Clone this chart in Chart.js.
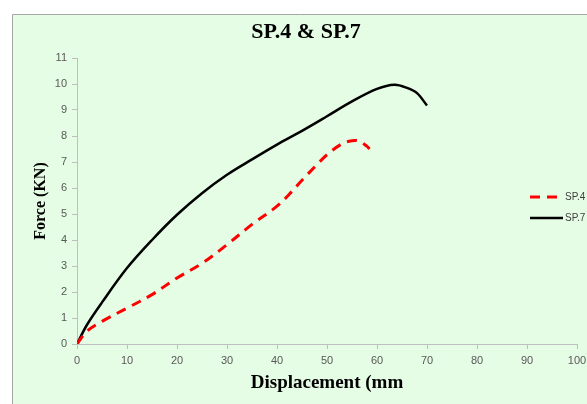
<!DOCTYPE html>
<html>
<head>
<meta charset="utf-8">
<script src="https://cdn.jsdelivr.net/npm/chart.js@4"></script>
<style>
    html, body { margin: 0; padding: 0; background: #ffffff; }
    #wrap { position: relative; width: 587px; height: 404px; }
</style>
</head>
<body>
<div id="wrap"><canvas id="myChart" width="587" height="404"></canvas></div>
<script>
// valori (spostamento mm -> forza KN)
const sp4Displacement = [0, 2, 5, 10, 15, 20, 25, 30, 35, 40, 43, 45, 48, 50, 53, 55, 56.5, 58, 58.5];
const sp4Force = [0, 0.49, 0.87, 1.38, 1.9, 2.54, 3.1, 3.82, 4.6, 5.3, 5.87, 6.3, 6.9, 7.28, 7.7, 7.82, 7.8, 7.6, 7.5];

const sp7Displacement = [0, 2, 5, 10, 15, 20, 25, 30, 35, 40, 45, 50, 55, 60, 63.5, 66, 68, 70];
const sp7Force = [0, 0.74, 1.6, 2.92, 4.0, 4.97, 5.8, 6.51, 7.1, 7.67, 8.2, 8.76, 9.33, 9.81, 9.97, 9.85, 9.65, 9.17];

const seriesLabels = ['SP.4', 'SP.7'];
const chartTitle = 'SP.4 & SP.7';
const xTitle = 'Displacement (mm';
const yTitle = 'Force (KN)';

function toPoints(xs, ys) {
    return xs.map((x, i) => ({ x: x, y: ys[i] }));
}

// sfondo verde e bordo del riquadro
const backgroundBox = {
    id: 'backgroundBox',
    beforeDraw(chart) {
        const ctx = chart.ctx;
        ctx.save();
        ctx.fillStyle = '#e5fce5';
        ctx.fillRect(12, 14, chart.width - 12, chart.height - 14);
        ctx.strokeStyle = '#a6a6a6';
        ctx.lineWidth = 1;
        ctx.beginPath();
        ctx.moveTo(12.5, chart.height);
        ctx.lineTo(12.5, 14.5);
        ctx.lineTo(chart.width, 14.5);
        ctx.stroke();
        ctx.restore();
    }
};

// titolo e legenda disegnati a mano per metterli dove sono nell'originale
const titleAndLegend = {
    id: 'titleAndLegend',
    afterDraw(chart) {
        const ctx = chart.ctx;
        ctx.save();
        ctx.fillStyle = '#000000';
        ctx.font = 'bold 22px "Liberation Serif"';
        ctx.textAlign = 'center';
        ctx.textBaseline = 'alphabetic';
        ctx.fillText(chartTitle, 306, 38);

        const rows = [197, 218];
        ctx.textBaseline = 'middle';
        chart.data.datasets.forEach((ds, i) => {
            const y = rows[i];
            ctx.strokeStyle = ds.borderColor;
            ctx.lineWidth = ds.borderWidth;
            ctx.setLineDash(ds.borderDash || []);
            ctx.beginPath();
            ctx.moveTo(530, y);
            ctx.lineTo(563, y);
            ctx.stroke();
            ctx.setLineDash([]);
            ctx.fillStyle = '#404040';
            ctx.font = '10px "Liberation Sans"';
            ctx.textAlign = 'left';
            ctx.fillText(ds.label, 565, y);
        });
        ctx.restore();
    }
};

const ctx = document.getElementById('myChart').getContext('2d');
const myChart = new Chart(ctx, {
    type: 'scatter',
    data: {
        datasets: [
            {
                label: seriesLabels[0],
                data: toPoints(sp4Displacement, sp4Force),
                showLine: true,
                borderColor: '#ff0000',
                borderWidth: 3,
                borderDash: [10, 7],
                pointRadius: 0,
                tension: 0.35,
            },
            {
                label: seriesLabels[1],
                data: toPoints(sp7Displacement, sp7Force),
                showLine: true,
                borderColor: '#000000',
                borderWidth: 2.5,
                pointRadius: 0,
                tension: 0.35,
            }
        ]
    },
    options: {
        responsive: false,
        animation: false,
        layout: {
            padding: { left: 11, top: 58, right: 10, bottom: 0 }
        },
        scales: {
            x: {
                type: 'linear',
                min: 0,
                max: 100,
                // niente spazio extra per l'etichetta "100"
                afterFit(scale) {
                    scale.height = 60;
                    scale.paddingLeft = 0;
                    scale.paddingRight = 0;
                },
                ticks: {
                    stepSize: 10,
                    color: '#595959',
                    padding: 5,
                    maxRotation: 0,
                    font: { family: 'Liberation Sans', size: 11 }
                },
                grid: { drawOnChartArea: false, drawTicks: true, tickLength: 5, color: '#bfbfbf' },
                border: { color: '#bfbfbf' },
                title: {
                    display: true,
                    text: xTitle,
                    color: '#000000',
                    padding: { top: 0, bottom: 10 },
                    font: { family: 'Liberation Serif', size: 19, weight: 'bold' }
                }
            },
            y: {
                type: 'linear',
                min: 0,
                max: 11,
                afterFit(scale) { scale.width = 66; },
                ticks: {
                    stepSize: 1,
                    color: '#595959',
                    padding: 5,
                    font: { family: 'Liberation Sans', size: 11 }
                },
                grid: { drawOnChartArea: false, drawTicks: true, tickLength: 5, color: '#bfbfbf' },
                border: { color: '#bfbfbf' },
                title: {
                    display: true,
                    text: yTitle,
                    color: '#000000',
                    padding: { top: 20, bottom: 0 },
                    font: { family: 'Liberation Serif', size: 16, weight: 'bold' }
                }
            }
        },
        plugins: {
            legend: { display: false },
            title: { display: false },
            tooltip: { enabled: false }
        }
    },
    plugins: [backgroundBox, titleAndLegend]
});
</script>
</body>
</html>
